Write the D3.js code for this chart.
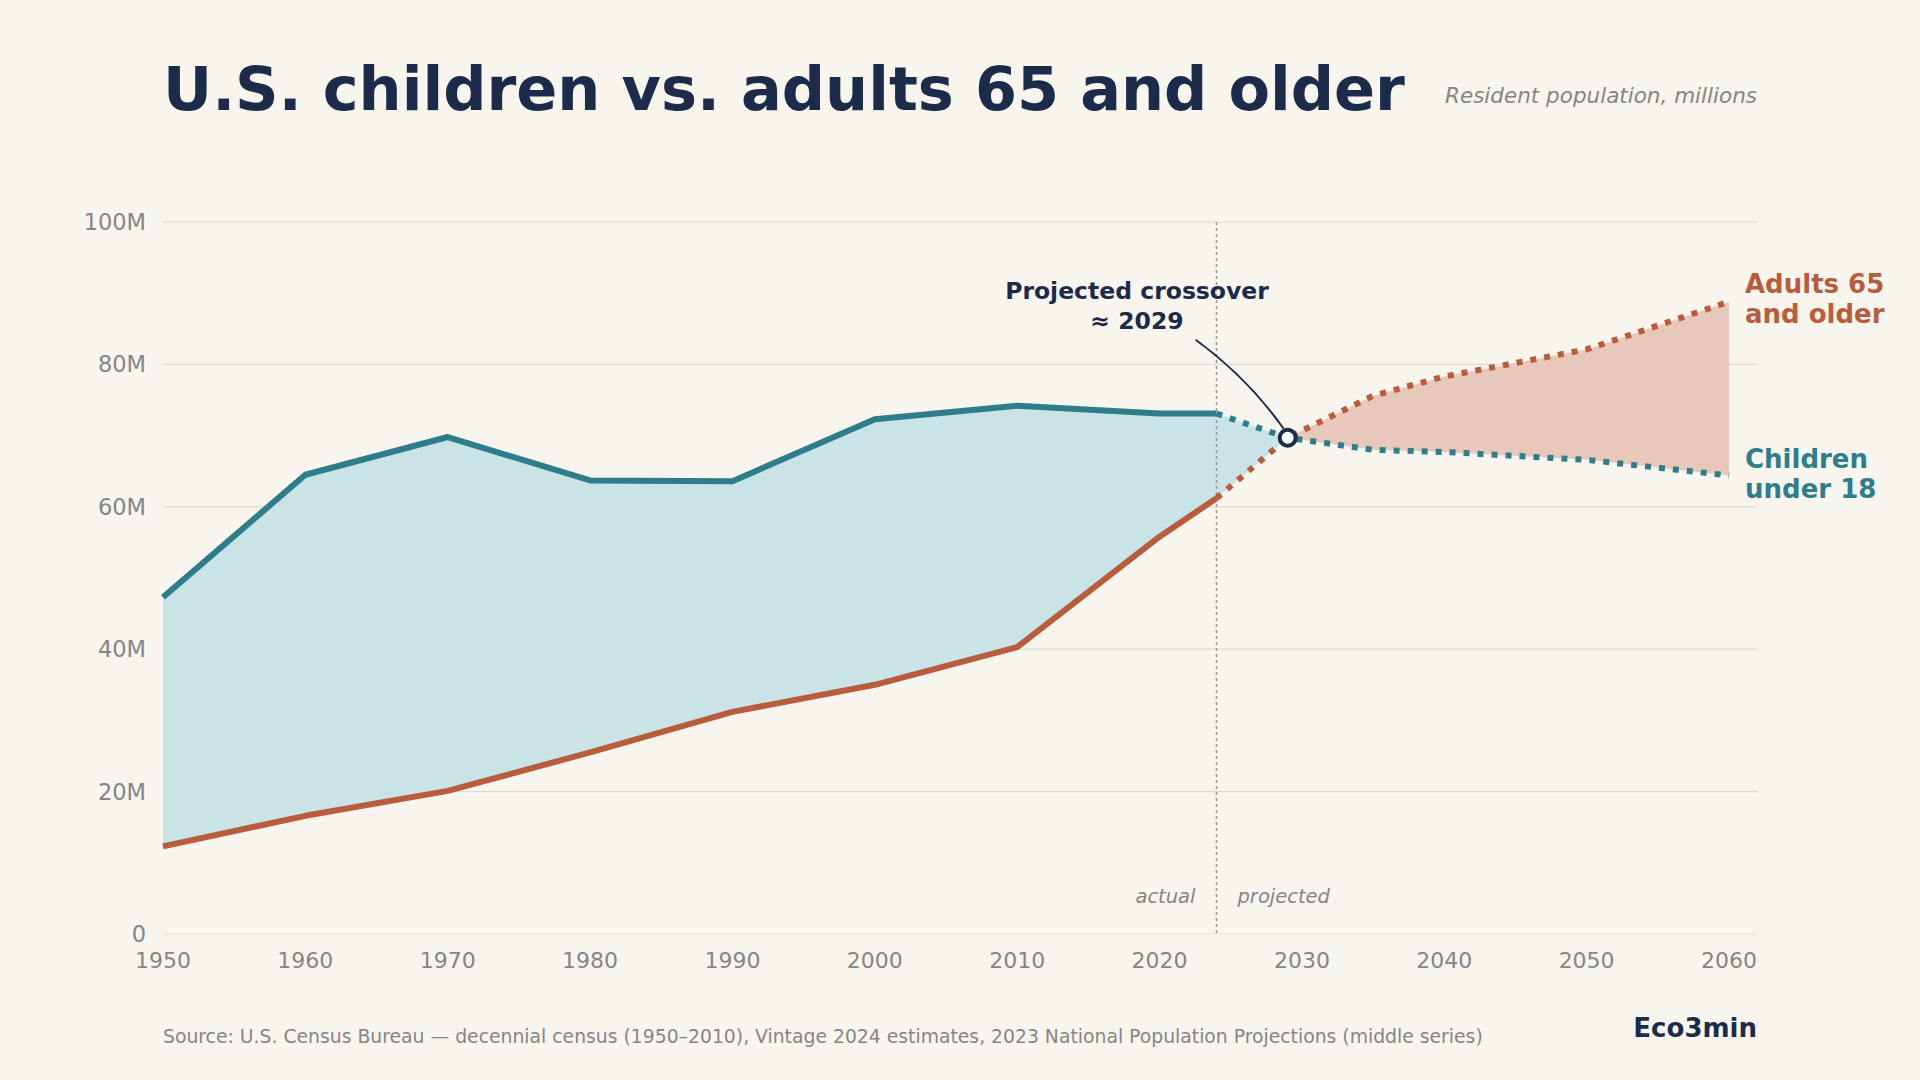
<!DOCTYPE html>
<html><head><meta charset="utf-8">
<script src="https://cdn.jsdelivr.net/npm/d3@7"></script>
<style>body{margin:0;background:#f8f5ef;font-family:"DejaVu Sans",sans-serif}</style>
</head><body><svg id="main" width="1920" height="1080"></svg>
<script>
var years = [1950,1960,1970,1980,1990,2000,2010,2020,2024,2029,2035,2040,2050,2060];
var children = [47.3,64.5,69.8,63.7,63.6,72.3,74.2,73.1,73.1,69.7,68.0,67.7,66.6,64.4];
var seniors = [12.3,16.6,20.1,25.5,31.2,35.0,40.3,55.8,61.2,69.7,75.6,78.3,82.1,88.8];
var actualEnd = 2024, crossYear = 2029;
var yTicks = [0,20,40,60,80,100];
var xTicks = [1950,1960,1970,1980,1990,2000,2010,2020,2030,2040,2050,2060];

var svg = d3.select("#main");
var teal = "#2e7d8a", rust = "#b85c3c", navy = "#1c2b49", grey = "#858585";
var x = d3.scaleLinear().domain([1950,2060]).range([163,1729]);
var y = d3.scaleLinear().domain([0,100]).range([934,222]);
var data = years.map(function(yr,i){return {yr:yr,c:children[i],s:seniors[i]};});

// grid
yTicks.forEach(function(t){
  svg.append("line").attr("x1",163).attr("x2",1757).attr("y1",y(t)).attr("y2",y(t))
    .attr("stroke",t==0?"#e4e0d8":"#dedad2").attr("stroke-width",1.2);
  svg.append("text").attr("x",146).attr("y",y(t)+8).attr("text-anchor","end")
    .attr("font-size",22.5).attr("fill",grey).text(t==0?"0":t+"M");
});
xTicks.forEach(function(t){
  svg.append("text").attr("x",x(t)).attr("y",968).attr("text-anchor","middle")
    .attr("font-size",22).attr("fill",grey).text(t);
});

// fills
var before = data.filter(function(d){return d.yr<=crossYear;});
var after = data.filter(function(d){return d.yr>=crossYear;});
var area = d3.area().x(function(d){return x(d.yr);});
svg.append("path").datum(before).attr("fill","#c9e3e6")
  .attr("d",area.y0(function(d){return y(d.s);}).y1(function(d){return y(d.c);}));
svg.append("path").datum(after).attr("fill","#e8c8bb")
  .attr("d",area.y0(function(d){return y(d.c);}).y1(function(d){return y(d.s);}));

// divider
svg.append("line").attr("x1",x(actualEnd)).attr("x2",x(actualEnd)).attr("y1",y(100)).attr("y2",y(0))
  .attr("stroke","#9a958c").attr("stroke-width",1.5).attr("stroke-dasharray","3,3");
svg.append("text").attr("x",x(actualEnd)-21).attr("y",903).attr("text-anchor","end")
  .attr("font-size",19.5).attr("font-style","italic").attr("fill",grey).text("actual");
svg.append("text").attr("x",x(actualEnd)+21).attr("y",903)
  .attr("font-size",19.5).attr("font-style","italic").attr("fill",grey).text("projected");

var line = d3.line().x(function(d){return x(d.yr);});
var act = data.filter(function(d){return d.yr<=actualEnd;});
var proj = data.filter(function(d){return d.yr>=actualEnd;});
[["c",teal],["s",rust]].forEach(function(k){
  var ly = line.y(function(d){return y(d[k[0]]);});
  svg.append("path").datum(act).attr("d",ly).attr("fill","none").attr("stroke",k[1])
    .attr("stroke-width",6).attr("stroke-linejoin","round");
  svg.append("path").datum(proj).attr("d",ly).attr("fill","none").attr("stroke",k[1])
    .attr("stroke-width",6).attr("stroke-dasharray","6,8");
});

// crossover
var cx = x(crossYear), cy = y(69.7);
svg.append("path").attr("d","M"+(cx-92)+","+(cy-98)+" Q"+(cx-40)+","+(cy-60)+" "+(cx-4)+","+(cy-9))
  .attr("fill","none").attr("stroke",navy).attr("stroke-width",2);
svg.append("circle").attr("cx",cx).attr("cy",cy).attr("r",8).attr("fill","#fff")
  .attr("stroke",navy).attr("stroke-width",4);
svg.append("text").attr("x",1137).attr("y",299).attr("text-anchor","middle").attr("font-size",23.5)
  .attr("font-weight","bold").attr("fill",navy).text("Projected crossover");
svg.append("text").attr("x",1137).attr("y",329).attr("text-anchor","middle").attr("font-size",23.5)
  .attr("font-weight","bold").attr("fill",navy).text("≈ 2029");

// labels
[["Adults 65",293,rust],["and older",323,rust],["Children",468,teal],["under 18",498,teal]].forEach(function(l){
  svg.append("text").attr("x",1745).attr("y",l[1]).attr("font-size",26).attr("font-weight","bold")
    .attr("fill",l[2]).text(l[0]);
});

svg.append("text").attr("x",163).attr("y",110).attr("font-size",60.5).attr("font-weight","bold")
  .attr("fill",navy).text("U.S. children vs. adults 65 and older");
svg.append("text").attr("x",1757).attr("y",103).attr("text-anchor","end").attr("font-size",21.5)
  .attr("font-style","italic").attr("fill",grey).text("Resident population, millions");
svg.append("text").attr("x",163).attr("y",1043).attr("font-size",18.8).attr("fill",grey)
  .text("Source: U.S. Census Bureau — decennial census (1950–2010), Vintage 2024 estimates, 2023 National Population Projections (middle series)");
svg.append("text").attr("x",1757).attr("y",1037).attr("text-anchor","end").attr("font-size",26)
  .attr("font-weight","bold").attr("fill",navy).text("Eco3min");
</script></body></html>
